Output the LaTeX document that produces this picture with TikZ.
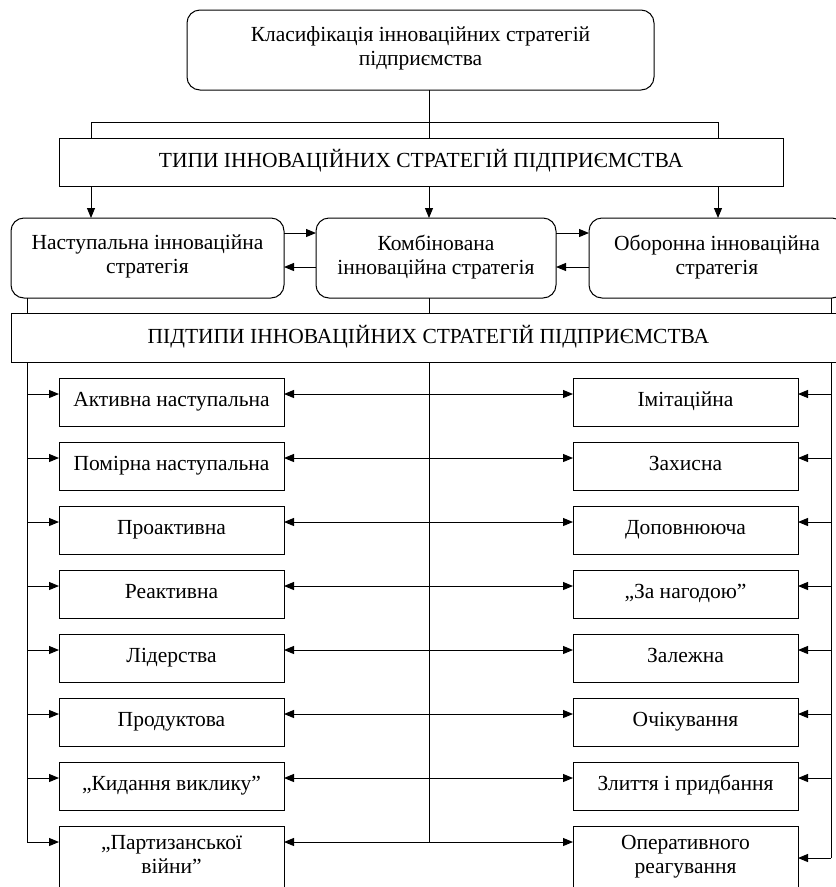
\documentclass[tikz,border=0pt]{standalone}
\usepackage{fontspec}
\setmainfont{Liberation Serif}
\usetikzlibrary{arrows.meta,calc}
\begin{document}
\begin{tikzpicture}[x=1pt,y=-1pt,
  every node/.style={inner sep=0pt, outer sep=0pt},
  box/.style={draw, line width=1pt, anchor=north west, align=center,
    font=\fontsize{21.5}{24}\selectfont,
    execute at begin node=\strut, execute at end node=\strut},
  rbox/.style={box, rounded corners=13pt},
  sbox/.style={box, minimum width=225pt, minimum height=48pt},
  conn/.style={line width=1pt},
  arr/.style={conn, -{Triangle[length=10pt,width=8pt]}},
  darr/.style={conn, {Triangle[length=10pt,width=8pt]}-{Triangle[length=10pt,width=8pt]}},
]
\useasboundingbox (0,0) rectangle (836,887);

\node[rbox, minimum width=467pt, minimum height=80pt] (top) at (187,10) {Класифікація інноваційних стратегій\\підприємства};
\node[box, minimum width=724pt, minimum height=48pt] (types) at (59,138) {ТИПИ ІННОВАЦІЙНИХ СТРАТЕГІЙ ПІДПРИЄМСТВА};
\node[rbox, minimum width=273pt, minimum height=80pt] (L) at (11,218) {Наступальна інноваційна\\стратегія};
\node[rbox, minimum width=240pt, minimum height=80pt] (M) at (316,218) {Комбінована\\інноваційна стратегія};
\node[rbox, minimum width=256pt, minimum height=80pt] (R) at (589,218) {Оборонна інноваційна\\стратегія};
\node[box, minimum width=835pt, minimum height=49pt] (sub) at (11,313) {ПІДТИПИ ІННОВАЦІЙНИХ СТРАТЕГІЙ ПІДПРИЄМСТВА};

\node[sbox] (l1) at (59,378) {Активна наступальна};
\node[sbox] (l2) at (59,442) {Помірна наступальна};
\node[sbox] (l3) at (59,506) {Проактивна};
\node[sbox] (l4) at (59,570) {Реактивна};
\node[sbox] (l5) at (59,634) {Лідерства};
\node[sbox] (l6) at (59,698) {Продуктова};
\node[sbox] (l7) at (59,762) {„Кидання виклику”};
\node[sbox, minimum height=64pt] (l8) at (59,826) {„Партизанської\\війни”};

\node[sbox] (r1) at (573,378) {Імітаційна};
\node[sbox] (r2) at (573,442) {Захисна};
\node[sbox] (r3) at (573,506) {Доповнююча};
\node[sbox] (r4) at (573,570) {„За нагодою”};
\node[sbox] (r5) at (573,634) {Залежна};
\node[sbox] (r6) at (573,698) {Очікування};
\node[sbox] (r7) at (573,762) {Злиття і придбання};
\node[sbox, minimum height=64pt] (r8) at (573,826) {Оперативного\\реагування};

% vertical reference lines
\coordinate (xa) at (91,0);
\coordinate (xm) at (429,0);
\coordinate (xb) at (718,0);
\coordinate (xl) at (27,0);
\coordinate (xr) at (831,0);
\coordinate (h1) at (0,122);

% top to types
\draw[conn] (xm |- top.south) -- (xm |- types.north);
\draw[conn] (xa |- types.north) -- (xa |- h1) -- (xb |- h1) -- (xb |- types.north);

% types to three boxes
\draw[arr] (xa |- types.south) -- (xa |- L.north);
\draw[arr] (xm |- types.south) -- (xm |- M.north);
\draw[arr] (xb |- types.south) -- (xb |- R.north);

% between three boxes
\coordinate (ya) at (0,233);
\coordinate (yb) at (0,267);
\draw[arr] (L.east |- ya) -- (M.west |- ya);
\draw[arr] (M.west |- yb) -- (L.east |- yb);
\draw[arr] (M.east |- ya) -- (R.west |- ya);
\draw[arr] (R.west |- yb) -- (M.east |- yb);

% three boxes to subtypes
\draw[conn] (xl |- L.south) -- (xl |- sub.north);
\draw[conn] (xm |- M.south) -- (xm |- sub.north);
\draw[conn] (xr |- R.south) -- (xr |- sub.north);

% row arrow levels
\foreach \i in {1,...,8} {
  \coordinate (y\i) at ($(l\i.north west)+(0,16)$);
}
\coordinate (yr8) at (0,858);

% bars
\draw[conn] (xl |- sub.south) -- (xl |- y8);
\draw[conn] (xm |- sub.south) -- (xm |- y8);
\draw[conn] (xr |- sub.south) -- (xr |- yr8);

\foreach \i in {1,...,8} {
  \draw[arr] (xl |- y\i) -- (l\i.west |- y\i);
  \draw[darr] (l\i.east |- y\i) -- (r\i.west |- y\i);
}
\foreach \i in {1,...,7} {
  \draw[arr] (xr |- y\i) -- (r\i.east |- y\i);
}
\draw[arr] (xr |- yr8) -- (r8.east |- yr8);
\end{tikzpicture}
\end{document}
